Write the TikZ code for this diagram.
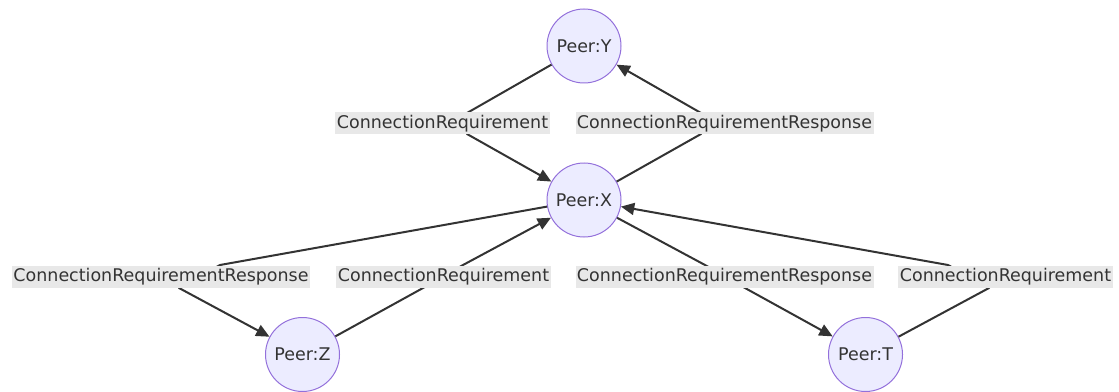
\documentclass[tikz,border=0pt]{standalone}
\usepackage{fontspec}
\setmainfont{DejaVu Sans}
\usetikzlibrary{arrows.meta}
\definecolor{peerfill}{HTML}{ECECFF}
\definecolor{peerline}{HTML}{9370DB}
\definecolor{ink}{HTML}{333333}
\definecolor{lblbg}{HTML}{E8E8E8}

\begin{document}
\begin{tikzpicture}[x=0.75pt,y=-0.75pt,
  peer/.style={circle,draw=peerline,fill=peerfill,line width=0.75pt,minimum size=55.5pt,inner sep=0pt,text=ink,font=\fontsize{13.1}{15}\selectfont},
  msg/.style={fill=lblbg,text=ink,inner xsep=1.1pt,inner ysep=0pt,minimum height=16.5pt,font=\fontsize{13.1}{15}\selectfont},
  wire/.style={draw=ink,line width=1.5pt,line join=round,-{Triangle[length=10pt,width=9pt]}}]
\useasboundingbox (0,0) rectangle (1119,392);
\node (Y) at (584,46) [peer] {Peer:Y};
\node (X) at (584,200) [peer] {Peer:X};
\node (Z) at (302.5,354.5) [peer] {Peer:Z};
\node (T) at (865.5,354.5) [peer] {Peer:T};
\coordinate (yx1) at (467,113);
\coordinate (yx2) at (467,134);
\coordinate (xy1) at (701,134);
\coordinate (xy2) at (701,113);
\coordinate (xz1) at (220,265);
\coordinate (xz2) at (179,288);
\coordinate (zx1) at (423,288);
\coordinate (zx2) at (463,265);
\coordinate (xt1) at (705,265);
\coordinate (xt2) at (745,288);
\coordinate (tx1) at (989,288);
\coordinate (tx2) at (948,265);
\draw[wire] (Y) -- (yx1) -- (yx2) -- (X);
\draw[wire] (X) -- (xy1) -- (xy2) -- (Y);
\draw[wire] (X) -- (xz1) -- (xz2) -- (Z);
\draw[wire] (Z) -- (zx1) -- (zx2) -- (X);
\draw[wire] (X) -- (xt1) -- (xt2) -- (T);
\draw[wire] (T) -- (tx1) -- (tx2) -- (X);
\node (reqYX) at (442.5,123.5) [msg] {ConnectionRequirement};
\node (resXY) at (724.5,123.5) [msg] {ConnectionRequirementResponse};
\node (resXZ) at (161,276.5) [msg] {ConnectionRequirementResponse};
\node (reqZX) at (443.5,276.5) [msg] {ConnectionRequirement};
\node (resXT) at (724.5,276.5) [msg] {ConnectionRequirementResponse};
\node (reqTX) at (1005.5,276.5) [msg] {ConnectionRequirement};
\end{tikzpicture}
\end{document}
